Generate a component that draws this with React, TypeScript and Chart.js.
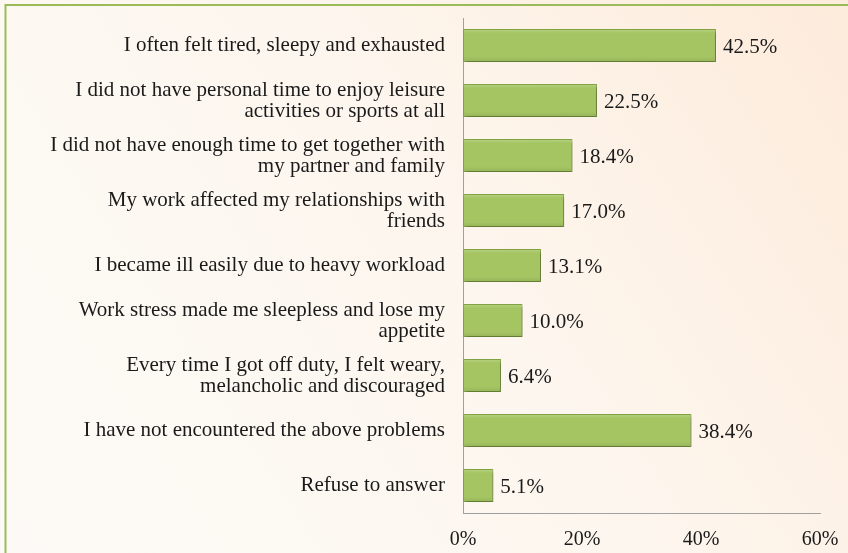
import React, { useEffect, useRef } from "react";
import { Chart, registerables } from "chart.js";

Chart.register(...registerables);

const categories: (string | string[])[] = [
  "I often felt tired, sleepy and exhausted",
  ["I did not have personal time to enjoy leisure", "activities or sports at all"],
  ["I did not have enough time to get together with", "my partner and family"],
  ["My work affected my relationships with", "friends"],
  "I became ill easily due to heavy workload",
  ["Work stress made me sleepless and lose my", "appetite"],
  ["Every time I got off duty, I felt weary,", "melancholic and discouraged"],
  "I have not encountered the above problems",
  "Refuse to answer",
];

const values: number[] = [42.5, 22.5, 18.4, 17.0, 13.1, 10.0, 6.4, 38.4, 5.1];

const xTicks: number[] = [0, 20, 40, 60];

const FONT = "'Liberation Serif', 'Times New Roman', serif";

const backgroundPlugin = {
  id: "bgFrame",
  beforeDraw(chart: any) {
    const { ctx, width, height } = chart;
    ctx.save();
    const g = ctx.createLinearGradient(width, 0, 0, height);
    g.addColorStop(0, "#FDEBDB");
    g.addColorStop(0.45, "#FDF6EE");
    g.addColorStop(1, "#FCFAF6");
    ctx.fillStyle = g;
    ctx.fillRect(0, 0, width, height);
    ctx.strokeStyle = "#9BBB59";
    ctx.lineWidth = 2;
    ctx.beginPath();
    ctx.moveTo(width + 2, 5);
    ctx.lineTo(5.5, 5);
    ctx.lineTo(5.5, height + 2);
    ctx.stroke();
    ctx.restore();
  },
};

const shadowPlugin = {
  id: "barShadow",
  beforeDatasetsDraw(chart: any) {
    const ctx = chart.ctx;
    ctx.save();
    ctx.shadowColor = "rgba(0,0,0,0.35)";
    ctx.shadowBlur = 4;
    ctx.shadowOffsetX = 2;
    ctx.shadowOffsetY = 2;
  },
  afterDatasetsDraw(chart: any) {
    const ctx = chart.ctx;
    ctx.restore();
    const meta = chart.getDatasetMeta(0);
    ctx.save();
    meta.data.forEach((el: any) => {
      const top = el.y - el.height / 2;
      const g = ctx.createLinearGradient(0, top, 0, top + el.height);
      g.addColorStop(0, "rgba(255,255,255,0.25)");
      g.addColorStop(0.12, "rgba(255,255,255,0.0)");
      g.addColorStop(0.85, "rgba(0,0,0,0.0)");
      g.addColorStop(1, "rgba(60,80,20,0.12)");
      ctx.fillStyle = g;
      ctx.fillRect(el.base + 1, top + 1, el.x - el.base - 2, el.height - 2);
    });
    ctx.restore();
  },
};

const labelPlugin = {
  id: "valueLabels",
  afterDatasetsDraw(chart: any) {
    const ctx = chart.ctx;
    const meta = chart.getDatasetMeta(0);
    ctx.save();
    ctx.font = `21px ${FONT}`;
    ctx.fillStyle = "#1a1a1a";
    ctx.textAlign = "left";
    ctx.textBaseline = "middle";
    meta.data.forEach((el: any, i: number) => {
      ctx.fillText(`${values[i].toFixed(1)}%`, el.x + 7, el.y + 2);
    });
    ctx.restore();
  },
};

export default function App() {
  const ref = useRef<HTMLCanvasElement | null>(null);

  useEffect(() => {
    document.body.style.margin = "0";
    const canvas = ref.current!;
    const chart = new Chart(canvas, {
      type: "bar",
      data: {
        labels: categories,
        datasets: [
          {
            data: values,
            backgroundColor: "#A5C563",
            borderColor: "#86A946",
            borderWidth: 1,
            borderSkipped: false,
            categoryPercentage: 0.6,
            barPercentage: 1,
          },
        ],
      },
      options: {
        indexAxis: "y",
        animation: false,
        responsive: false,
        maintainAspectRatio: false,
        layout: { padding: { top: 18, right: 28, left: 0, bottom: 0 } },
        plugins: {
          legend: { display: false },
          tooltip: { enabled: false },
        },
        scales: {
          x: {
            min: 0,
            max: 60,
            afterBuildTicks(scale: any) {
              scale.ticks = xTicks.map((v) => ({ value: v }));
            },
            afterFit(scale: any) {
              scale.height = 40;
              scale.paddingLeft = 0;
              scale.paddingRight = 0;
            },
            grid: { display: false, drawTicks: false },
            border: { display: true, color: "#A0A0A0", width: 1 },
            ticks: {
              padding: 15,
              color: "#1a1a1a",
              font: { family: FONT, size: 20 },
              callback: (v: any) => `${v}%`,
            },
          },
          y: {
            afterFit(scale: any) {
              scale.width = 463;
              scale.paddingTop = 0;
              scale.paddingBottom = 0;
            },
            grid: { display: false, drawTicks: false },
            border: { display: true, color: "#A0A0A0", width: 1 },
            ticks: {
              padding: 18,
              color: "#1a1a1a",
              autoSkip: false,
              font: { family: FONT, size: 21, lineHeight: 1.0 },
            },
          },
        },
      },
      plugins: [backgroundPlugin, shadowPlugin, labelPlugin],
    });
    return () => chart.destroy();
  }, []);

  return (
    <div style={{ width: 848, height: 553 }}>
      <canvas ref={ref} width={848} height={553} style={{ display: "block" }} />
    </div>
  );
}
